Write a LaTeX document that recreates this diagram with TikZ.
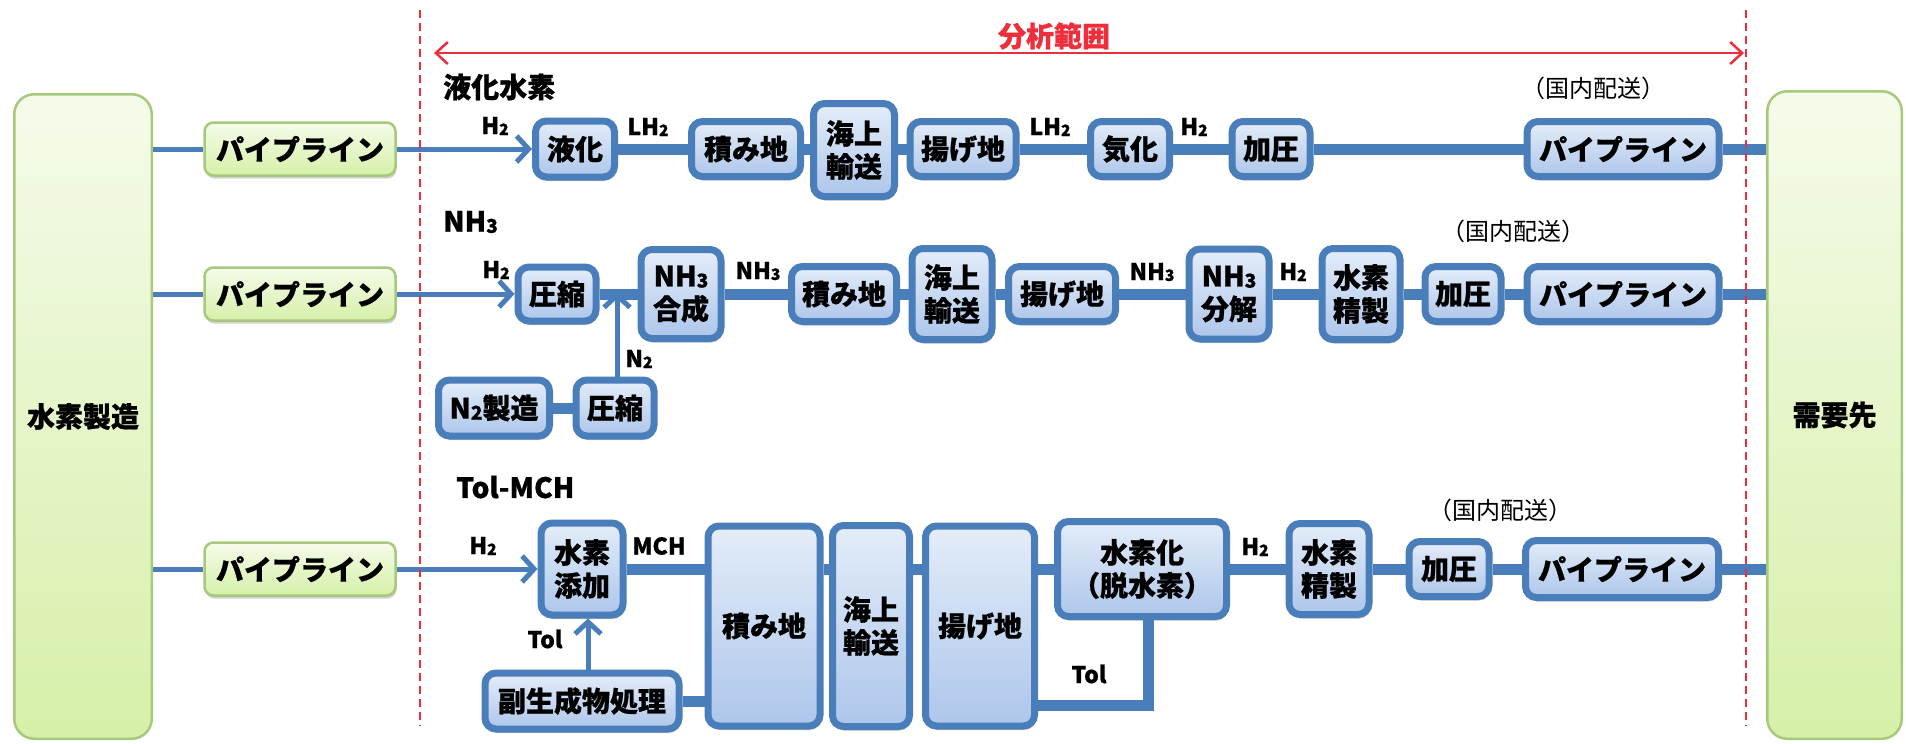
\documentclass[tikz,border=0pt]{standalone}
\usepackage{fontspec}
\setmainfont{Noto Sans CJK JP}[BoldFeatures={FakeBold=0.8}]
\usetikzlibrary{arrows.meta,shadows}
\definecolor{bline}{HTML}{4A7EBB}
\definecolor{bfillT}{HTML}{E4EDF9}
\definecolor{bfillB}{HTML}{ADC6EA}
\definecolor{gline}{HTML}{A6C97C}
\definecolor{gfillT}{HTML}{F5FBEA}
\definecolor{gfillB}{HTML}{D6F0A8}
\definecolor{rline}{HTML}{EE2E3A}
\tikzset{
  bbox/.style={draw=bline, line width=7pt, rounded corners=11pt, top color=bfillT, bottom color=bfillB,
    inner sep=0pt, align=center, font=\bfseries\fontsize{28}{33}\selectfont,
    drop shadow={shadow xshift=1pt, shadow yshift=-4pt, fill=black, opacity=0.22}},
  gbox/.style={draw=gline, line width=2.5pt, rounded corners=9pt, top color=gfillT, bottom color=gfillB,
    inner sep=0pt, font=\bfseries\fontsize{28}{33}\selectfont,
    drop shadow={shadow xshift=1pt, shadow yshift=-3pt, fill=black, opacity=0.18}},
  bigbox/.style={draw=gline, line width=2.5pt, rounded corners=20pt, top color=gfillT, bottom color=gfillB,
    inner sep=0pt, font=\bfseries\fontsize{28}{33}\selectfont},
  fat/.style={draw=bline, line width=11pt},
  slim/.style={draw=bline, line width=5pt},
  arr/.style={slim, -{Straight Barb[length=12pt,width=26pt]}},
  lab/.style={font=\bfseries\fontsize{23}{25}\selectfont, inner sep=0pt},
  ttl/.style={font=\bfseries\fontsize{28}{30}\selectfont, inner sep=0pt, anchor=west},
  dom/.style={font=\fontsize{24}{26}\selectfont, inner sep=0pt},
  rdash/.style={draw=rline, line width=2.5pt, dash pattern=on 8pt off 5pt},
}
\newcommand{\sbs}[1]{\raisebox{-0.04em}{\scalebox{0.68}{#1}}}
\begin{document}
\begin{tikzpicture}[x=1pt, y=-1pt]
\useasboundingbox (0,0) rectangle (1906,744);
\fill[white] (0,0) rectangle (1906,744);

% big end boxes
\node[bigbox, minimum width=137.5pt, minimum height=644.5pt] (L) at (83,416.5) {水素製造};
\node[bigbox, minimum width=134.5pt, minimum height=647.5pt] (R) at (1834.5,415) {需要先};

% left pipelines
\node[gbox, minimum width=191pt, minimum height=53pt] (g1) at (300,149) {パイプライン};
\node[gbox, minimum width=191pt, minimum height=53pt] (g2) at (300,294) {パイプライン};
\node[gbox, minimum width=191pt, minimum height=53pt] (g3) at (300,569) {パイプライン};

% titles
\node[ttl] (t1) at (443,87) {液化水素};
\node[ttl] (t2) at (443,222) {NH\sbs{3}};
\node[ttl] (t3) at (456,487) {Tol-MCH};
\node[font=\bfseries\fontsize{28}{30}\selectfont, text=rline, inner sep=0pt] (scopelabel) at (1054,36) {分析範囲};

% row 1
\node[bbox, minimum width=79pt, minimum height=56pt] (r1a) at (575,149) {液化};
\node[bbox, minimum width=109pt, minimum height=55pt] (r1b) at (746,149) {積み地};
\node[bbox, minimum width=81pt, minimum height=93pt] (r1c) at (854,150) {海上\\輸送};
\node[bbox, minimum width=106pt, minimum height=55pt] (r1d) at (963,149) {揚げ地};
\node[bbox, minimum width=79pt, minimum height=55pt] (r1e) at (1130,149) {気化};
\node[bbox, minimum width=78pt, minimum height=55pt] (r1f) at (1271,149) {加圧};
\node[bbox, minimum width=192pt, minimum height=55pt] (r1g) at (1623,149) {パイプライン};

% row 2
\node[bbox, minimum width=78pt, minimum height=54pt] (r2a) at (557,294) {圧縮};
\node[bbox, minimum width=80pt, minimum height=89pt] (r2b) at (681,294) {NH\sbs{3}\\合成};
\node[bbox, minimum width=105pt, minimum height=55pt] (r2c) at (844,294) {積み地};
\node[bbox, minimum width=80pt, minimum height=91pt] (r2d) at (952,294) {海上\\輸送};
\node[bbox, minimum width=107pt, minimum height=55pt] (r2e) at (1062,294) {揚げ地};
\node[bbox, minimum width=80pt, minimum height=90pt] (r2f) at (1229,294) {NH\sbs{3}\\分解};
\node[bbox, minimum width=78pt, minimum height=91pt] (r2g) at (1361,294) {水素\\精製};
\node[bbox, minimum width=76pt, minimum height=55pt] (r2h) at (1463,294) {加圧};
\node[bbox, minimum width=192pt, minimum height=55pt] (r2i) at (1623,294) {パイプライン};
\node[bbox, minimum width=111pt, minimum height=56pt] (n2m) at (494,408) {N\sbs{2}製造};
\node[bbox, minimum width=78pt, minimum height=56pt] (n2c) at (615,408) {圧縮};

% row 3
\node[bbox, minimum width=82pt, minimum height=92pt] (r3h) at (582,569) {水素\\添加};
\node[bbox, minimum width=112pt, minimum height=200pt] (r3s) at (764,626) {積み地};
\node[bbox, minimum width=77pt, minimum height=201pt] (r3k) at (871,626) {海上\\輸送};
\node[bbox, minimum width=109pt, minimum height=200pt] (r3u) at (980,626) {揚げ地};
\node[bbox, minimum width=169pt, minimum height=95pt] (r3d) at (1142,569) {水素化\\（脱水素）};
\node[bbox, minimum width=80pt, minimum height=91pt] (r3p) at (1329,569) {水素\\精製};
\node[bbox, minimum width=80pt, minimum height=55pt] (r3c) at (1449,569) {加圧};
\node[bbox, minimum width=193pt, minimum height=57pt] (r3g) at (1622,569) {パイプライン};
\node[bbox, minimum width=194pt, minimum height=56pt] (r3x) at (582,701) {副生成物処理};

% domestic labels
\node[dom] (d1) at (1593,88) {（国内配送）};
\node[dom] (d2) at (1513,231) {（国内配送）};
\node[dom] (d3) at (1500,510) {（国内配送）};

% connector labels
\node[lab] (l1a) at (495,126) {H\sbs{2}};
\node[lab] (l1b) at (648,127) {LH\sbs{2}};
\node[lab] (l1c) at (1050,127) {LH\sbs{2}};
\node[lab] (l1d) at (1194,127) {H\sbs{2}};
\node[lab] (l2a) at (496,270) {H\sbs{2}};
\node[lab] (l2b) at (758,271) {NH\sbs{3}};
\node[lab] (l2c) at (1152,272) {NH\sbs{3}};
\node[lab] (l2d) at (1293,272) {H\sbs{2}};
\node[lab] (l2e) at (639,359) {N\sbs{2}};
\node[lab] (l3a) at (483,546) {H\sbs{2}};
\node[lab] (l3b) at (659,546) {MCH};
\node[lab] (l3c) at (1255,547) {H\sbs{2}};
\node[lab] (l3d) at (545,639) {Tol};
\node[lab] (l3e) at (1089,674) {Tol};

% connectors row 1
\draw[slim] (L.east |- g1.west) -- (g1.west);
\draw[arr] (g1.east) -- (r1a.west);
\draw[fat] (r1a.east) -- (r1b.west);
\draw[fat] (r1b.east) -- (r1c.west |- r1b.east);
\draw[fat] (r1c.east |- r1d.west) -- (r1d.west);
\draw[fat] (r1d.east) -- (r1e.west);
\draw[fat] (r1e.east) -- (r1f.west);
\draw[fat] (r1f.east) -- (r1g.west);
\draw[fat] (r1g.east) -- (R.west |- r1g.east);

% connectors row 2
\draw[slim] (L.east |- g2.west) -- (g2.west);
\draw[arr] (g2.east) -- (r2a.west);
\draw[fat] (r2a.east) -- (r2b.west);
\draw[fat] (r2b.east) -- (r2c.west);
\draw[fat] (r2c.east) -- (r2d.west);
\draw[fat] (r2d.east) -- (r2e.west);
\draw[fat] (r2e.east) -- (r2f.west);
\draw[fat] (r2f.east) -- (r2g.west);
\draw[fat] (r2g.east) -- (r2h.west);
\draw[fat] (r2h.east) -- (r2i.west);
\draw[fat] (r2i.east) -- (R.west |- r2i.east);
\draw[fat] (n2m.east) -- (n2c.west);
\draw[arr, shorten >=-2pt] ([xshift=2pt]n2c.north) -- ([xshift=2pt]n2c.north |- r2a.east);

% connectors row 3
\draw[slim] (L.east |- g3.west) -- (g3.west);
\draw[arr] (g3.east) -- (r3h.west |- g3.east);
\draw[fat] (r3h.east) -- (r3h.east -| r3s.west);
\draw[fat] (r3s.east |- r3h.east) -- (r3k.west |- r3h.east);
\draw[fat] (r3k.east |- r3h.east) -- (r3u.west |- r3h.east);
\draw[fat] (r3u.east |- r3h.east) -- (r3d.west |- r3h.east);
\draw[fat] (r3d.east) -- (r3p.west);
\draw[fat] (r3p.east) -- (r3c.west);
\draw[fat] (r3c.east) -- (r3g.west);
\draw[fat] (r3g.east) -- (R.west |- r3g.east);
\draw[arr] ([xshift=6pt]r3x.north) -- ([xshift=6pt]r3x.north |- r3h.south);
\draw[fat] (r3x.east) -- (r3x.east -| r3s.west);
\coordinate (tolc) at (1148,705);
\draw[fat] (r3d.south -| tolc) -- (tolc) -- (tolc -| r3u.east);

% analysis range
\coordinate (dl1) at (420,10);
\coordinate (dl2) at (420,726);
\coordinate (dr1) at (1746,10);
\coordinate (dr2) at (1746,726);
\coordinate (al) at (434,53);
\coordinate (ar) at (1744,53);
\draw[rdash] (dl1) -- (dl2);
\draw[rdash] (dr1) -- (dr2);
\draw[draw=rline, line width=2.5pt, {Straight Barb[length=12pt,width=22pt]}-{Straight Barb[length=12pt,width=22pt]}] (al) -- (ar);
\end{tikzpicture}
\end{document}
